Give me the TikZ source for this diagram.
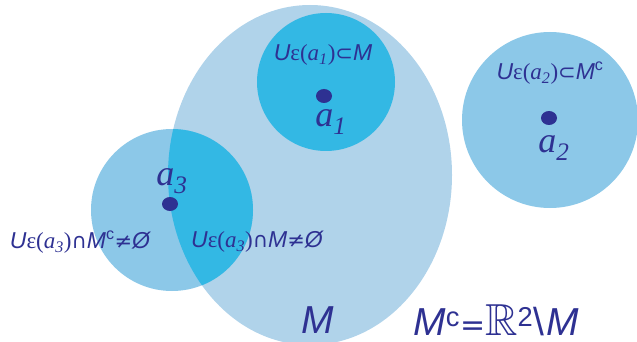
\documentclass[tikz,border=0pt]{standalone}
\usepackage{amssymb}
\usepackage{fontspec}
\setmainfont{Liberation Serif}
\setsansfont{Liberation Sans}
\newfontfamily\symf{DejaVu Sans}
\usetikzlibrary{shapes.geometric}
\definecolor{ink}{HTML}{2E3192}
\definecolor{mfill}{HTML}{B0D3EA}
\definecolor{lfill}{HTML}{8CC8E8}
\definecolor{cfill}{HTML}{33B8E4}
\newcommand\Us{{\sffamily\itshape U}}
\newcommand\Ms{{\sffamily\itshape M}}
\newcommand\ep{{\rmfamily\upshape ε}}
\newcommand\argA[1]{{\rmfamily(\textit{a}\textsubscript{\textit{#1}})}}
\newcommand\sy[1]{{\symf\upshape\fontsize{21}{24}\selectfont #1}}
\begin{document}
\begin{tikzpicture}[x=1pt,y=-1pt,
  lbl/.style={text=ink, inner sep=0pt, font=\fontsize{23}{26}\selectfont},
  big/.style={text=ink, inner sep=0pt, font=\fontsize{36}{40}\selectfont\rmfamily\itshape},
  huge/.style={text=ink, inner sep=0pt, font=\fontsize{39}{43}\selectfont\sffamily\itshape},
  dot/.style={ellipse, fill=ink, inner sep=0pt, minimum width=16pt, minimum height=14pt}]
\useasboundingbox (0,0) rectangle (637,342);
% big set M
\fill[mfill] (310,175) ellipse [x radius=142, y radius=170];
% a3 neighbourhood
\fill[lfill] (172,210) circle [radius=81];
\begin{scope}
  \clip (310,175) ellipse [x radius=142, y radius=170];
  \fill[cfill] (172,210) circle [radius=81];
\end{scope}
% a1 neighbourhood
\fill[cfill] (326,82) circle [radius=69];
% a2 neighbourhood
\fill[lfill] (550,120) circle [radius=88];
% points
\node[dot] (p1) at (324,96) {};
\node[dot] (p2) at (549,118) {};
\node[dot] (p3) at (170,204) {};
% point labels
\node[big] (l1) at (331,122) {a\textsubscript{1}};
\node[big] (l2) at (554,148) {a\textsubscript{2}};
\node[big] (l3) at (172,181) {a\textsubscript{3}};
% neighbourhood labels
\node[lbl] (u1) at (323,55) {\Us\ep\argA{1}\sy{⊂}\Ms};
\node[lbl] (u2) at (550,73) {\Us\ep\argA{2}\sy{⊂}\Ms\textsuperscript{\sffamily c}};
\node[lbl] (u3) at (80,242) {\Us\ep\argA{3}\sy{∩}\Ms\textsuperscript{\sffamily c}\sy{≠}{\sffamily\itshape Ø}};
\node[lbl] (u4) at (257,242) {\Us\ep\argA{3}\sy{∩}\Ms\sy{≠}{\sffamily\itshape Ø}};
% set labels
\node[huge] (mm) at (318,320) {M};
\node[huge] (mc) at (496,320) {M\textsuperscript{\upshape c}{\symf\upshape\fontsize{30}{34}\selectfont =}\scalebox{1.15}{$\mathbb{R}$}\textsuperscript{\upshape 2}{\upshape\textbackslash}\kern2ptM};
\end{tikzpicture}
\end{document}
